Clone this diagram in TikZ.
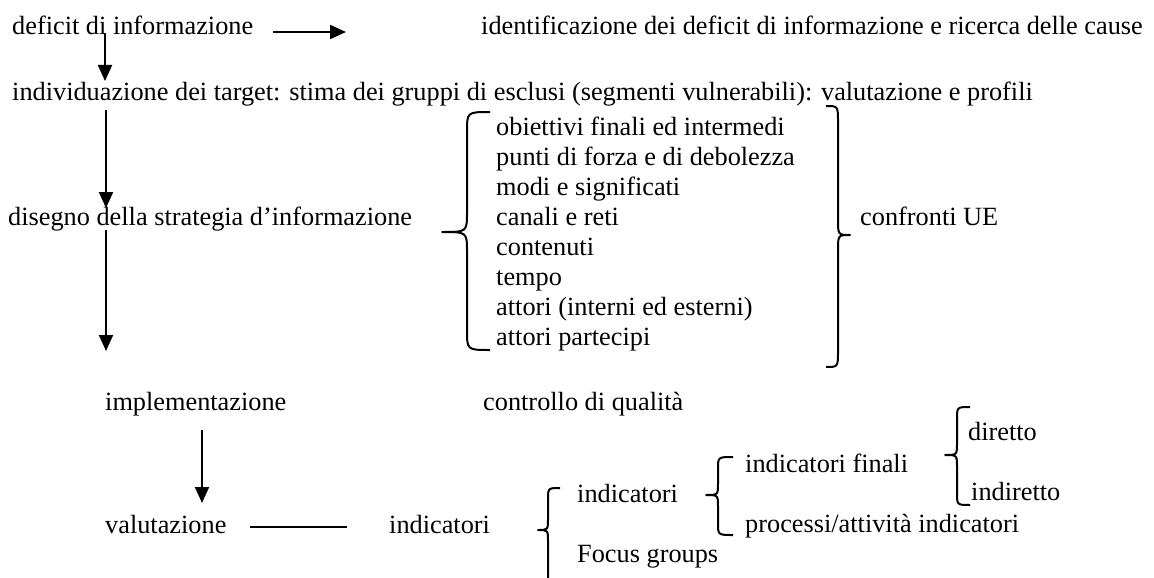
\documentclass[tikz,border=0pt]{standalone}
\usepackage{fontspec}
\setmainfont{Liberation Serif}
\usetikzlibrary{arrows.meta}
\newcommand\mainsize{\fontsize{26.3}{30}\selectfont}
\newcommand\BraceDraw[7]{\draw[bracepath] (#1,#4) .. controls (#2,#4) .. (#2,#4+#7) -- (#2,#5-#7) .. controls (#2,#5) .. (#3,#5) .. controls (#2,#5) .. (#2,#5+#7) -- (#2,#6-#7) .. controls (#2,#6) .. (#1,#6);}
\tikzset{
  txt/.style={anchor=base west, inner sep=0pt, font=\mainsize},
  arr/.style={-{Triangle[length=16pt,width=14pt]}, line width=2pt},
  plain/.style={line width=2pt},
  bracepath/.style={line width=2pt, line join=round}
}
\begin{document}
\begin{tikzpicture}[x=1pt,y=-1pt]
\useasboundingbox[fill=white] (0,0) rectangle (1154,578);
% texts
\node[txt] (deficit) at (12,35) {deficit di informazione};
\node[txt] (ident) at (481,35) {identificazione dei deficit di informazione e ricerca delle cause};
\node[txt] (indiv) at (12,100) {individuazione dei target: stima dei gruppi di esclusi (segmenti vulnerabili): valutazione e profili};
\node[txt] (disegno) at (8,225) {disegno della strategia d’informazione};
\node[txt] (l1) at (496,135) {obiettivi finali ed intermedi};
\node[txt] (l2) at (496,165) {punti di forza e di debolezza};
\node[txt] (l3) at (496,195) {modi e significati};
\node[txt] (l4) at (496,225) {canali e reti};
\node[txt] (l5) at (496,255) {contenuti};
\node[txt] (l6) at (496,285) {tempo};
\node[txt] (l7) at (496,315) {attori (interni ed esterni)};
\node[txt] (l8) at (496,345) {attori partecipi};
\node[txt] (confronti) at (860,225) {confronti UE};
\node[txt] (impl) at (105,410) {implementazione};
\node[txt] (qual) at (483,410) {controllo di qualità};
\node[txt] (valut) at (105,533) {valutazione};
\node[txt] (ind) at (389,533) {indicatori};
\node[txt] (ind2) at (577,502) {indicatori};
\node[txt] (focus) at (577,562) {Focus groups};
\node[txt] (indfin) at (745,472) {indicatori finali};
\node[txt] (proc) at (745,532) {processi/attività indicatori};
\node[txt] (dir) at (968,440) {diretto};
\node[txt] (indir) at (971,500) {indiretto};
% connector end points
\coordinate (a1s) at (273,32);
\coordinate (a1e) at (346,32);
\coordinate (a2s) at (105,33);
\coordinate (a2e) at (105,81);
\coordinate (a3s) at (106,110);
\coordinate (a3e) at (106,208);
\coordinate (a4s) at (106,230);
\coordinate (a4e) at (106,351);
\coordinate (a5s) at (202,430);
\coordinate (a5e) at (202,503);
\coordinate (l1s) at (250,527);
\coordinate (l1e) at (347,527);
% connectors
\draw[arr] (a1s) -- (a1e);
\draw[arr] (a2s) -- (a2e);
\draw[arr] (a3s) -- (a3e);
\draw[arr] (a4s) -- (a4e);
\draw[arr] (a5s) -- (a5e);
\draw[plain] (l1s) -- (l1e);
% braces
\BraceDraw{490}{467}{442}{112}{232}{350}{20}
\BraceDraw{826}{838}{850}{106}{235}{367}{16}
\draw[bracepath] (560,488) .. controls (548,488) .. (548,500) -- (548,518) .. controls (548,530) .. (538,530) .. controls (548,530) .. (548,542) -- (548,578);
\BraceDraw{733}{718}{706}{457}{495}{535}{12}
\BraceDraw{970}{957}{945}{407}{455}{505}{12}
\end{tikzpicture}
\end{document}
